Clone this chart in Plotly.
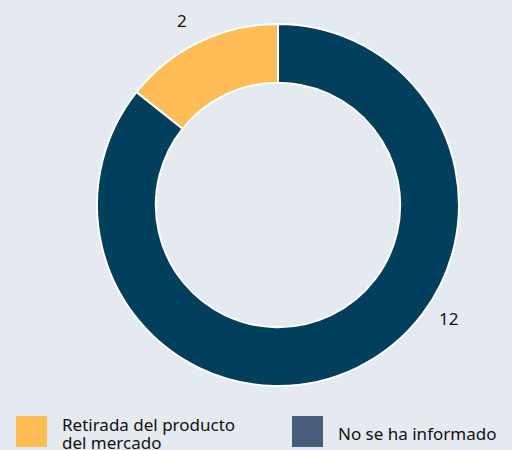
import plotly.graph_objects as go

categories = ["Retirada del producto<br>del mercado", "No se ha informado"]
values = [2, 12]
slice_colors = ["#ffbc57", "#023f5c"]
legend_colors = ["#ffbc57", "#475d7a"]

W, H = 512, 450
BG = "#e5e9f0"
FONT = "Noto Sans"

# first slice should run counterclockwise from 12 o'clock
start_rot = -360.0 * values[0] / sum(values)

fig = go.Figure()
fig.add_trace(go.Pie(
    labels=categories,
    values=values,
    hole=0.675,
    sort=False,
    direction="counterclockwise",
    rotation=start_rot,
    marker=dict(colors=slice_colors, line=dict(color="white", width=2)),
    textinfo="none",
    hoverinfo="label+value",
    showlegend=False,
    domain=dict(x=[(278 - 181) / W, (278 + 181) / W], y=[(H - 386) / H, (H - 24) / H]),
))

# value labels
label_pos = [(182, 21), (448, 318)]
for v, (px, py) in zip(values, label_pos):
    fig.add_annotation(x=px / W, y=1 - py / H, xref="paper", yref="paper",
                       text=str(v), showarrow=False, xanchor="center", yanchor="middle",
                       font=dict(size=17, color="#111111", family=FONT))

# legend
legend_x = [16, 292]
for i, (name, col) in enumerate(zip(categories, legend_colors)):
    x0 = legend_x[i]
    fig.add_shape(type="rect", xref="paper", yref="paper",
                  x0=x0 / W, x1=(x0 + 31) / W, y0=1 - 447 / H, y1=1 - 416 / H,
                  fillcolor=col, line=dict(width=0))
    lines = name.split("<br>")
    n = len(lines)
    for j, line in enumerate(lines):
        cy = 433 + (j - (n - 1) / 2) * 18
        fig.add_annotation(x=(x0 + 44) / W, y=1 - cy / H, xref="paper", yref="paper",
                           text=line, showarrow=False, xanchor="left", yanchor="middle",
                           align="left",
                           font=dict(size=17, color="#111111", family=FONT))

fig.update_layout(
    width=W, height=H,
    margin=dict(l=0, r=0, t=0, b=0),
    paper_bgcolor=BG, plot_bgcolor=BG,
)
fig.write_html("out.html", config={"displayModeBar": False},
               post_script="document.body.style.margin='0';document.body.style.background='%s';" % BG)
